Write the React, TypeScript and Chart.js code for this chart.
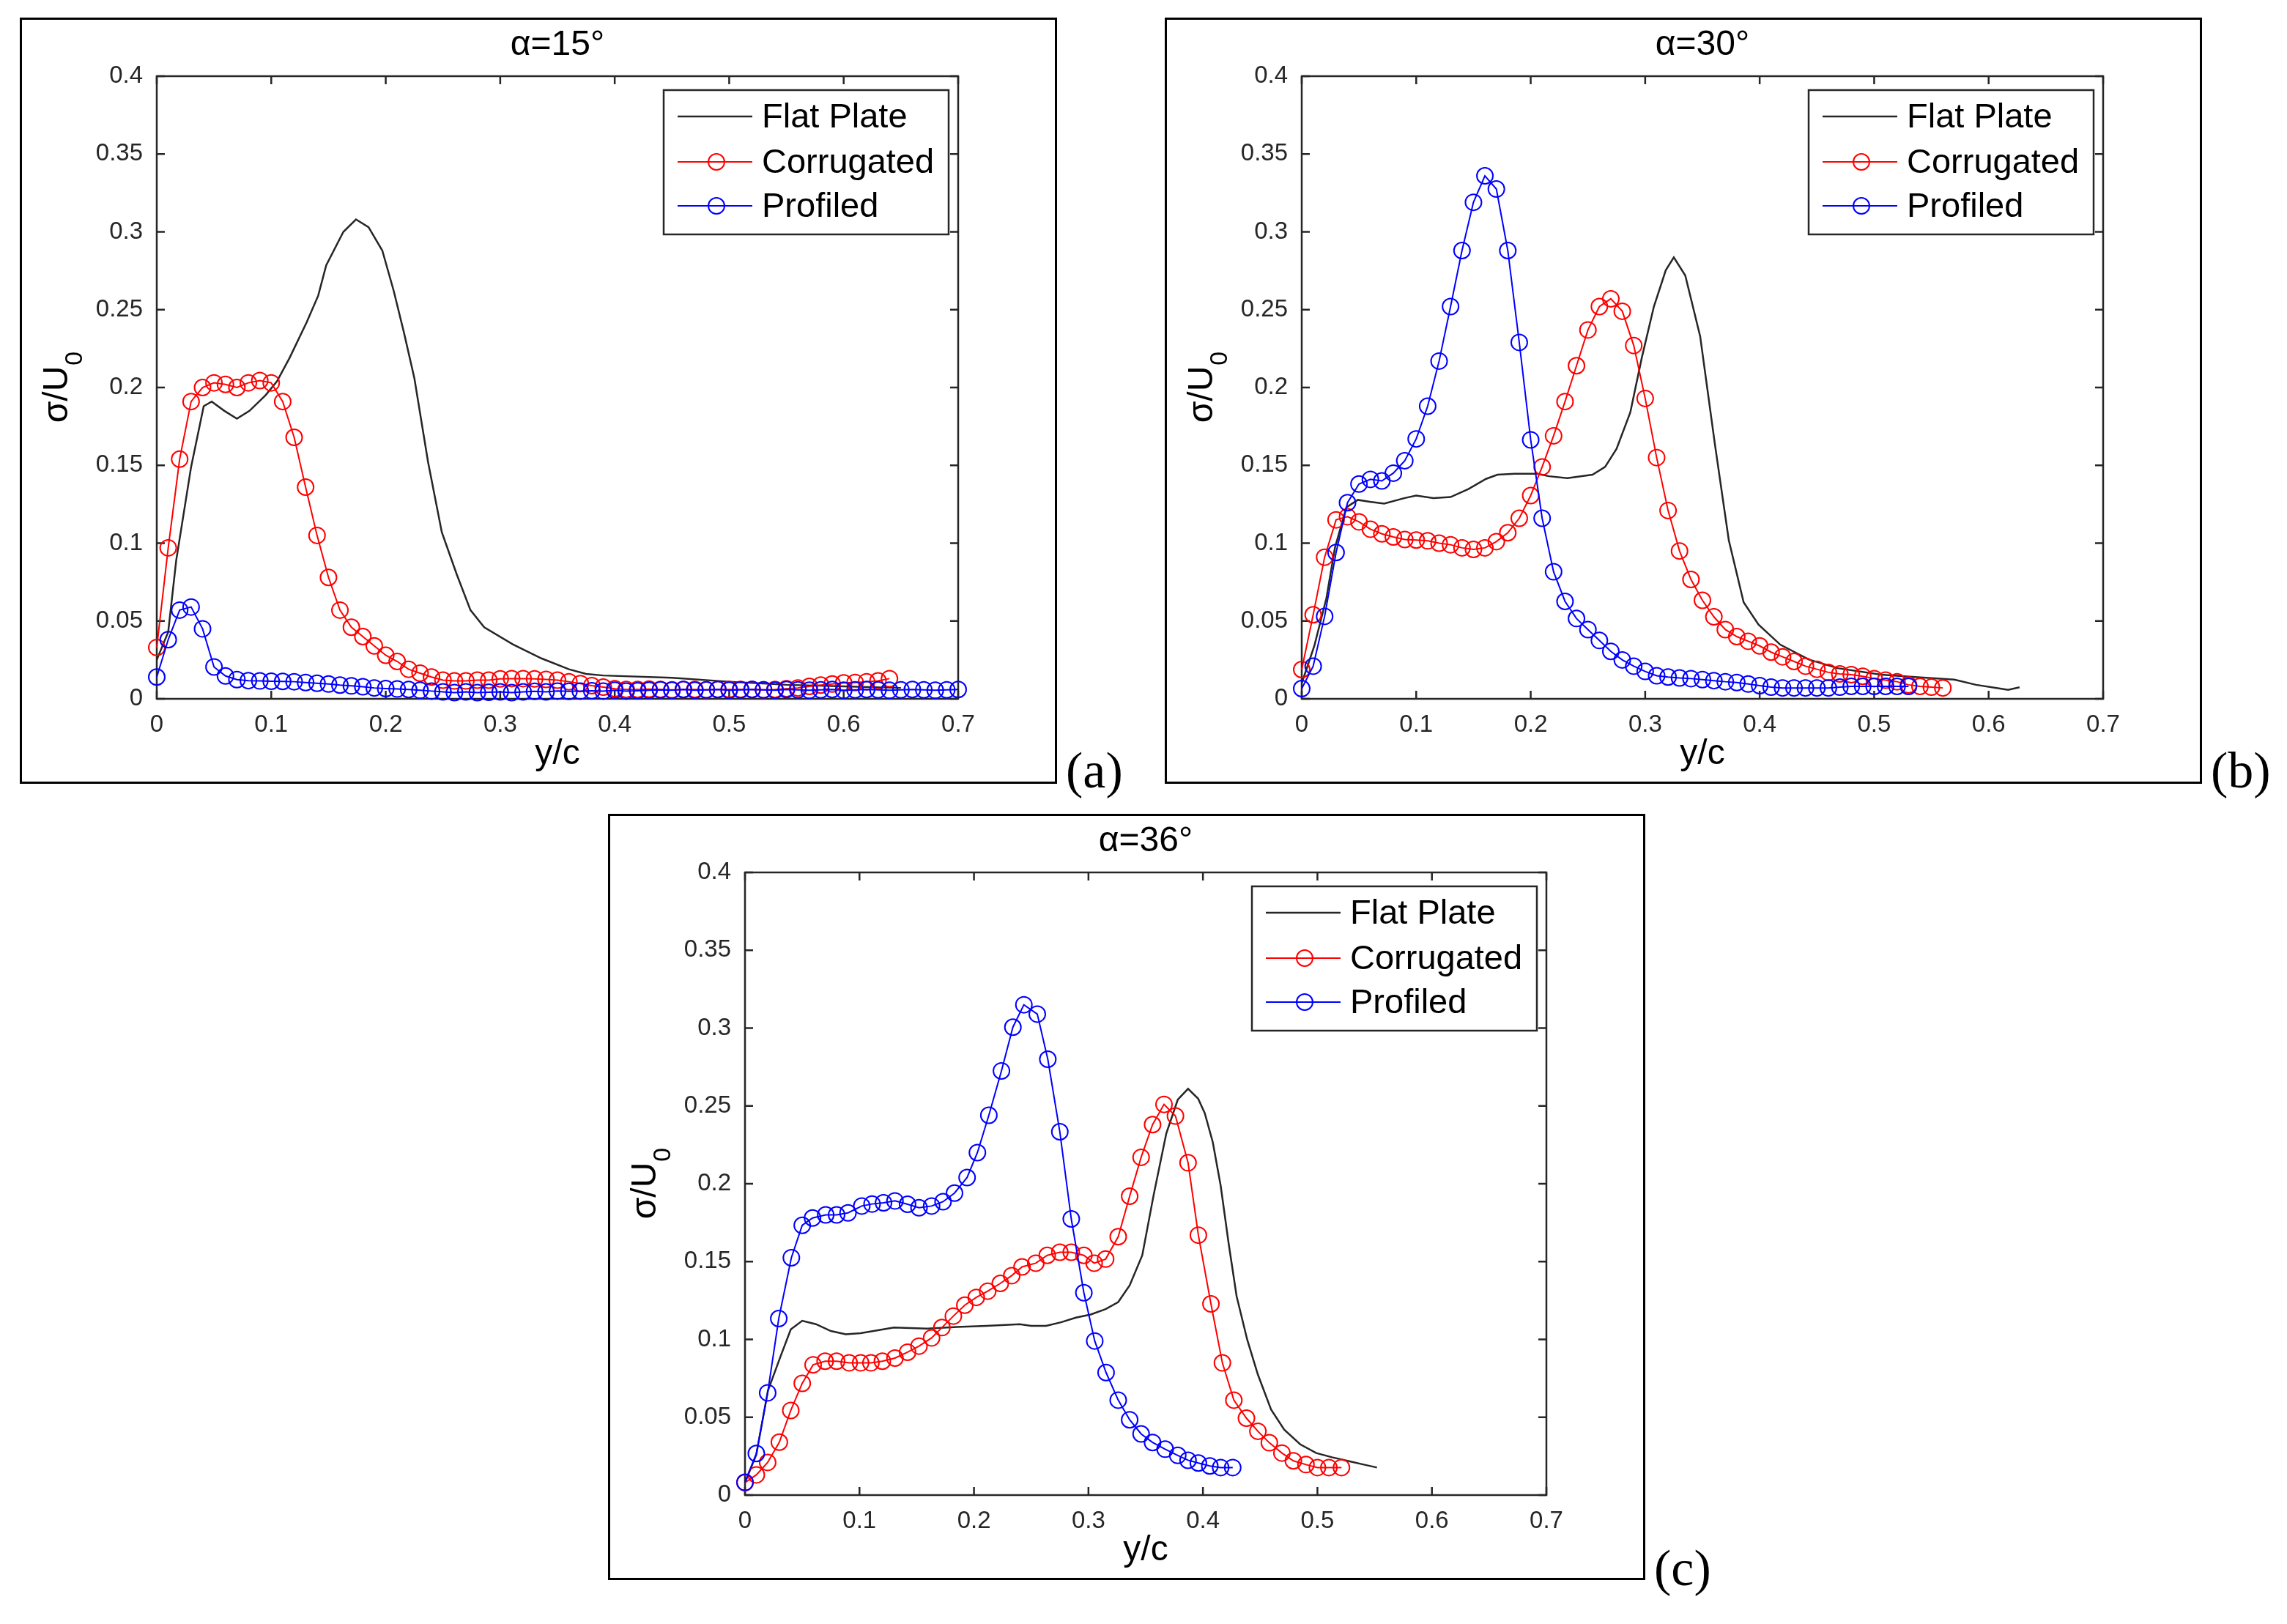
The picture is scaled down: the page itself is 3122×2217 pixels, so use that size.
import React, { useEffect, useRef } from 'react';
import { Chart, registerables } from 'chart.js';

Chart.register(...registerables);

const FONT = '"Liberation Sans", Arial, Helvetica, sans-serif';
const AXIS_COLOR = '#262626';

// axis ticks
const X_TICKS = [0, 0.1, 0.2, 0.3, 0.4, 0.5, 0.6, 0.7];
const X_TICK_LABELS = ['0', '0.1', '0.2', '0.3', '0.4', '0.5', '0.6', '0.7'];
const Y_TICKS = [0, 0.05, 0.1, 0.15, 0.2, 0.25, 0.3, 0.35, 0.4];
const Y_TICK_LABELS = ['0', '0.05', '0.1', '0.15', '0.2', '0.25', '0.3', '0.35', '0.4'];

const SERIES_NAMES = ['Flat Plate', 'Corrugated', 'Profiled'];
const SERIES_COLORS = ['#262626', '#ff0000', '#0000ff'];

// measurement stations (y/c) of the marker series
const PROBE_X = [
  0, 0.01, 0.02, 0.03, 0.04, 0.05, 0.06, 0.07, 0.08, 0.09,
  0.1, 0.11, 0.12, 0.13, 0.14, 0.15, 0.16, 0.17, 0.18, 0.19,
  0.2, 0.21, 0.22, 0.23, 0.24, 0.25, 0.26, 0.27, 0.28, 0.29,
  0.3, 0.31, 0.32, 0.33, 0.34, 0.35, 0.36, 0.37, 0.38, 0.39,
  0.4, 0.41, 0.42, 0.43, 0.44, 0.45, 0.46, 0.47, 0.48, 0.49,
  0.5, 0.51, 0.52, 0.53, 0.54, 0.55, 0.56, 0.57, 0.58, 0.59,
  0.6, 0.61, 0.62, 0.63, 0.64, 0.65, 0.66, 0.67, 0.68, 0.69,
  0.7,
];

// (a) alpha = 15
const A_FLAT_X = [0, 0.01, 0.017, 0.03, 0.041, 0.048, 0.059, 0.07, 0.081, 0.095, 0.105, 0.116, 0.131, 0.141, 0.148, 0.163, 0.174, 0.185, 0.197, 0.207, 0.216, 0.225, 0.237, 0.249, 0.262, 0.274, 0.286, 0.311, 0.336, 0.36, 0.375, 0.39, 0.45, 0.5, 0.55, 0.6, 0.65];
const A_FLAT_Y = [0.025, 0.043, 0.089, 0.149, 0.188, 0.191, 0.185, 0.18, 0.185, 0.195, 0.204, 0.219, 0.242, 0.259, 0.2785, 0.3, 0.308, 0.303, 0.288, 0.262, 0.235, 0.206, 0.152, 0.107, 0.08, 0.057, 0.046, 0.035, 0.026, 0.019, 0.016, 0.015, 0.0135, 0.011, 0.009, 0.008, 0.007];
const A_CORR_X = PROBE_X.slice(0, 65);
const A_CORR_Y = [
  0.033, 0.097, 0.154, 0.191, 0.2, 0.203, 0.202, 0.2, 0.203, 0.2045,
  0.203, 0.191, 0.168, 0.136, 0.105, 0.078, 0.057, 0.046, 0.04, 0.034,
  0.028, 0.024, 0.019, 0.0165, 0.014, 0.012, 0.0115, 0.0115, 0.012, 0.012,
  0.0128, 0.013, 0.013, 0.0128, 0.0125, 0.012, 0.011, 0.0098, 0.0085, 0.0075,
  0.0065, 0.006, 0.006, 0.0062, 0.006, 0.0058, 0.006, 0.006, 0.0058, 0.006,
  0.006, 0.006, 0.006, 0.0058, 0.006, 0.0065, 0.007, 0.008, 0.0088, 0.0095,
  0.0102, 0.0105, 0.011, 0.0115, 0.013,
];
const A_PROF_X = PROBE_X.slice(0, 71);
const A_PROF_Y = [
  0.014, 0.038, 0.057, 0.059, 0.045, 0.0205, 0.0147, 0.0124, 0.0117, 0.0115,
  0.0113, 0.0112, 0.011, 0.0105, 0.01, 0.0095, 0.0088, 0.0083, 0.0078, 0.007,
  0.0066, 0.0063, 0.006, 0.0055, 0.005, 0.0045, 0.004, 0.0045, 0.004, 0.0042,
  0.0045, 0.004, 0.0045, 0.0048, 0.0045, 0.005, 0.0048, 0.005, 0.0052, 0.005,
  0.0055, 0.005, 0.0052, 0.0055, 0.0058, 0.0055, 0.006, 0.0055, 0.0058, 0.006,
  0.0055, 0.0058, 0.006, 0.0058, 0.0055, 0.006, 0.0058, 0.0055, 0.0058, 0.006,
  0.0055, 0.0058, 0.006, 0.0058, 0.0055, 0.0058, 0.006, 0.0058, 0.0055, 0.0058,
  0.006,
];

// (b) alpha = 30
const B_FLAT_X = [0, 0.011, 0.0215, 0.029, 0.039, 0.049, 0.0595, 0.072, 0.09, 0.1, 0.115, 0.13, 0.1456, 0.161, 0.171, 0.186, 0.206, 0.216, 0.232, 0.254, 0.265, 0.275, 0.287, 0.297, 0.3076, 0.318, 0.325, 0.335, 0.348, 0.361, 0.373, 0.386, 0.399, 0.418, 0.443, 0.468, 0.506, 0.538, 0.57, 0.589, 0.608, 0.617, 0.627];
const B_FLAT_Y = [0.01, 0.034, 0.0645, 0.097, 0.123, 0.1278, 0.1266, 0.1254, 0.129, 0.1306, 0.129, 0.1296, 0.1348, 0.1413, 0.144, 0.1446, 0.1446, 0.143, 0.1418, 0.144, 0.149, 0.1606, 0.184, 0.219, 0.252, 0.2754, 0.2836, 0.272, 0.233, 0.163, 0.102, 0.062, 0.0477, 0.0348, 0.0252, 0.0197, 0.0155, 0.0139, 0.0123, 0.009, 0.0068, 0.0058, 0.0074];
const B_CORR_X = PROBE_X.slice(0, 57);
const B_CORR_Y = [
  0.0188, 0.054, 0.091, 0.115, 0.117, 0.1137, 0.109, 0.106, 0.104, 0.1024,
  0.102, 0.1015, 0.1, 0.099, 0.097, 0.096, 0.097, 0.101, 0.1067, 0.116,
  0.1306, 0.149, 0.169, 0.191, 0.214, 0.237, 0.252, 0.257, 0.249, 0.227,
  0.193, 0.155, 0.121, 0.095, 0.0767, 0.0633, 0.0527, 0.0445, 0.04, 0.037,
  0.034, 0.03, 0.027, 0.024, 0.021, 0.019, 0.017, 0.016, 0.0155, 0.0145,
  0.013, 0.012, 0.011, 0.009, 0.008, 0.0075, 0.007,
];
const B_PROF_X = PROBE_X.slice(0, 54);
const B_PROF_Y = [
  0.0066, 0.021, 0.053, 0.094, 0.126, 0.138, 0.141, 0.14, 0.145, 0.153,
  0.167, 0.188, 0.217, 0.252, 0.288, 0.319, 0.336, 0.3275, 0.288, 0.229,
  0.1664, 0.116, 0.0816, 0.0626, 0.0516, 0.0445, 0.0375, 0.0305, 0.025, 0.021,
  0.0176, 0.0148, 0.014, 0.0134, 0.013, 0.0124, 0.0117, 0.011, 0.0105, 0.0095,
  0.0085, 0.0075, 0.007, 0.007, 0.007, 0.007, 0.007, 0.0075, 0.008, 0.008,
  0.008, 0.008, 0.008, 0.008,
];

// (c) alpha = 36
const C_FLAT_X = [0, 0.0099, 0.02, 0.031, 0.04, 0.05, 0.062, 0.075, 0.088, 0.101, 0.117, 0.13, 0.159, 0.185, 0.211, 0.24, 0.25, 0.263, 0.276, 0.289, 0.302, 0.315, 0.326, 0.336, 0.347, 0.357, 0.368, 0.378, 0.387, 0.3958, 0.4016, 0.4086, 0.4155, 0.4225, 0.4294, 0.4387, 0.448, 0.4595, 0.471, 0.485, 0.499, 0.5127, 0.529, 0.5405, 0.552];
const C_FLAT_Y = [0.008, 0.026, 0.067, 0.089, 0.1065, 0.112, 0.1098, 0.1054, 0.1033, 0.104, 0.106, 0.1076, 0.107, 0.108, 0.1087, 0.1098, 0.1087, 0.1087, 0.111, 0.114, 0.116, 0.1195, 0.124, 0.1347, 0.154, 0.193, 0.2323, 0.254, 0.261, 0.2547, 0.2453, 0.2267, 0.1987, 0.1614, 0.1278, 0.0998, 0.0774, 0.055, 0.042, 0.0326, 0.027, 0.0243, 0.0215, 0.0196, 0.0177];
const C_CORR_X = [0, 0.0099, 0.0198, 0.03, 0.04, 0.05, 0.0595, 0.07, 0.08, 0.091, 0.101, 0.11, 0.12, 0.131, 0.142, 0.152, 0.163, 0.172, 0.182, 0.192, 0.202, 0.212, 0.223, 0.233, 0.242, 0.254, 0.264, 0.275, 0.285, 0.296, 0.305, 0.315, 0.326, 0.336, 0.346, 0.356, 0.366, 0.376, 0.387, 0.396, 0.407, 0.417, 0.427, 0.438, 0.448, 0.458, 0.469, 0.479, 0.49, 0.5, 0.51, 0.521];
const C_CORR_Y = [0.008, 0.013, 0.021, 0.034, 0.0544, 0.0718, 0.0837, 0.086, 0.086, 0.085, 0.085, 0.085, 0.086, 0.088, 0.0918, 0.0957, 0.101, 0.1076, 0.115, 0.122, 0.127, 0.131, 0.136, 0.141, 0.1466, 0.149, 0.154, 0.156, 0.156, 0.154, 0.149, 0.1516, 0.166, 0.192, 0.217, 0.238, 0.251, 0.2435, 0.2135, 0.167, 0.1228, 0.0849, 0.061, 0.0494, 0.041, 0.0336, 0.027, 0.022, 0.0196, 0.0177, 0.0177, 0.0177];
const C_PROF_X = [0, 0.0099, 0.0198, 0.0295, 0.0405, 0.05, 0.059, 0.0705, 0.08, 0.09, 0.102, 0.111, 0.121, 0.131, 0.142, 0.152, 0.163, 0.173, 0.183, 0.194, 0.203, 0.213, 0.224, 0.234, 0.2436, 0.2553, 0.2645, 0.275, 0.285, 0.296, 0.3055, 0.3154, 0.326, 0.336, 0.346, 0.356, 0.367, 0.378, 0.387, 0.396, 0.406, 0.4155, 0.426];
const C_PROF_Y = [0.0082, 0.0267, 0.0657, 0.1134, 0.1525, 0.1733, 0.178, 0.18, 0.18, 0.1813, 0.1857, 0.187, 0.1878, 0.189, 0.1868, 0.1846, 0.1857, 0.1885, 0.194, 0.204, 0.22, 0.244, 0.2725, 0.3006, 0.315, 0.309, 0.28, 0.2334, 0.1774, 0.13, 0.099, 0.0787, 0.061, 0.0484, 0.0393, 0.0338, 0.0295, 0.0255, 0.0224, 0.0206, 0.0187, 0.0177, 0.0177];

const PANEL_W = 1416;
const PANEL_H = 1046;

const zip = (xs: number[], ys: number[]) => xs.map((x, i) => ({ x, y: ys[i] }));

// Matlab-like axes box, inward ticks, title, labels and legend
const matlabAxes = {
  id: 'matlabAxes',
  beforeDatasetsDraw(chart: any) {
    const { ctx, chartArea: a, scales } = chart;
    ctx.save();
    ctx.strokeStyle = AXIS_COLOR;
    ctx.lineWidth = 2.5;
    ctx.strokeRect(a.left, a.top, a.right - a.left, a.bottom - a.top);
    ctx.beginPath();
    X_TICKS.forEach((v) => {
      const px = scales.x.getPixelForValue(v);
      ctx.moveTo(px, a.bottom);
      ctx.lineTo(px, a.bottom - 11);
      ctx.moveTo(px, a.top);
      ctx.lineTo(px, a.top + 11);
    });
    Y_TICKS.forEach((v) => {
      const py = scales.y.getPixelForValue(v);
      ctx.moveTo(a.left, py);
      ctx.lineTo(a.left + 11, py);
      ctx.moveTo(a.right, py);
      ctx.lineTo(a.right - 11, py);
    });
    ctx.stroke();
    ctx.restore();
  },
  afterDraw(chart: any, _args: any, opts: any) {
    const { ctx, chartArea: a } = chart;
    const cx = (a.left + a.right) / 2;
    const cy = (a.top + a.bottom) / 2;
    ctx.save();
    ctx.fillStyle = '#000';

    // title
    ctx.font = `48px ${FONT}`;
    ctx.textAlign = 'center';
    ctx.textBaseline = 'alphabetic';
    ctx.fillText(opts.title, cx, 51);

    // x label
    ctx.fillText('y/c', cx, 1019);

    // y label: sigma/U with subscript 0, rotated
    ctx.save();
    ctx.translate(65, cy);
    ctx.rotate(-Math.PI / 2);
    ctx.textAlign = 'left';
    ctx.font = `48px ${FONT}`;
    const main = 'σ/U';
    const wMain = ctx.measureText(main).width;
    ctx.font = `34px ${FONT}`;
    const wSub = ctx.measureText('0').width;
    const x0 = -(wMain + wSub) / 2;
    ctx.font = `48px ${FONT}`;
    ctx.fillText(main, x0, 0);
    ctx.font = `34px ${FONT}`;
    ctx.fillText('0', x0 + wMain + 1, 20);
    ctx.restore();

    // legend
    const lw = 389;
    const lh = 197;
    const lx = a.right - 13 - lw;
    const ly = a.top + 19;
    ctx.fillStyle = '#fff';
    ctx.fillRect(lx, ly, lw, lh);
    ctx.strokeStyle = AXIS_COLOR;
    ctx.lineWidth = 2.5;
    ctx.strokeRect(lx, ly, lw, lh);
    const rows = [36, 98, 158];
    chart.data.datasets.forEach((ds: any, i: number) => {
      const y = ly + rows[i];
      ctx.strokeStyle = ds.borderColor;
      ctx.lineWidth = ds.borderWidth;
      ctx.beginPath();
      ctx.moveTo(lx + 19, y);
      ctx.lineTo(lx + 121, y);
      ctx.stroke();
      if (ds.pointRadius > 0) {
        ctx.lineWidth = ds.pointBorderWidth;
        ctx.beginPath();
        ctx.arc(lx + 72, y, ds.pointRadius, 0, Math.PI * 2);
        ctx.stroke();
      }
      ctx.fillStyle = '#000';
      ctx.font = `47px ${FONT}`;
      ctx.textAlign = 'left';
      ctx.textBaseline = 'middle';
      ctx.fillText(ds.label, lx + 134, y + 2);
    });
    ctx.restore();
  },
};

interface PanelProps {
  left: number;
  top: number;
  title: string;
  flatX: number[];
  flatY: number[];
  corrX: number[];
  corrY: number[];
  profX: number[];
  profY: number[];
}

const Panel: React.FC<PanelProps> = ({ left, top, title, flatX, flatY, corrX, corrY, profX, profY }) => {
  const chartRef = useRef<HTMLCanvasElement>(null);

  useEffect(() => {
    if (!chartRef.current) return;
    const ctx = chartRef.current.getContext('2d');
    if (!ctx) return;

    const marker = (color: string) => ({
      borderColor: color,
      borderWidth: 2,
      pointRadius: 11,
      pointHoverRadius: 11,
      pointBorderWidth: 2,
      pointBorderColor: color,
      pointBackgroundColor: 'rgba(0,0,0,0)',
      clip: false as const,
    });

    const chart = new Chart(ctx, {
      type: 'line',
      data: {
        datasets: [
          {
            label: SERIES_NAMES[0],
            data: zip(flatX, flatY),
            borderColor: SERIES_COLORS[0],
            borderWidth: 2.5,
            pointRadius: 0,
            order: 3,
            clip: false,
          },
          { label: SERIES_NAMES[1], data: zip(corrX, corrY), order: 2, ...marker(SERIES_COLORS[1]) },
          { label: SERIES_NAMES[2], data: zip(profX, profY), order: 1, ...marker(SERIES_COLORS[2]) },
        ],
      },
      options: {
        animation: false,
        responsive: false,
        devicePixelRatio: 1,
        events: [],
        layout: { padding: { left: 0, top: 80, right: 135, bottom: 0 } },
        plugins: {
          legend: { display: false },
          tooltip: { enabled: false },
          // @ts-ignore custom plugin options
          matlabAxes: { title },
        },
        scales: {
          x: {
            type: 'linear',
            min: 0,
            max: 0.7,
            grid: { display: false },
            border: { display: false },
            afterBuildTicks: (s: any) => {
              s.ticks = X_TICKS.map((value) => ({ value }));
            },
            afterFit: (s: any) => {
              s.height = 116;
            },
            ticks: {
              autoSkip: false,
              maxRotation: 0,
              padding: 8,
              color: AXIS_COLOR,
              font: { family: FONT, size: 33 },
              callback: (_v: any, i: number) => X_TICK_LABELS[i],
            },
          },
          y: {
            type: 'linear',
            min: 0,
            max: 0.4,
            grid: { display: false },
            border: { display: false },
            afterBuildTicks: (s: any) => {
              s.ticks = Y_TICKS.map((value) => ({ value }));
            },
            afterFit: (s: any) => {
              s.width = 187;
            },
            ticks: {
              autoSkip: false,
              padding: 11,
              color: AXIS_COLOR,
              font: { family: FONT, size: 33 },
              callback: (_v: any, i: number) => Y_TICK_LABELS[i],
            },
          },
        },
      },
      plugins: [matlabAxes],
    });

    return () => {
      chart.destroy();
    };
  }, []);

  return (
    <div style={{ position: 'absolute', left, top, width: PANEL_W, height: PANEL_H }}>
      <canvas
        ref={chartRef}
        width={PANEL_W}
        height={PANEL_H}
        style={{ position: 'absolute', left: 0, top: 0, width: PANEL_W, height: PANEL_H }}
      />
      <div
        style={{
          position: 'absolute',
          left: 0,
          top: 0,
          width: PANEL_W,
          height: PANEL_H,
          border: '3px solid #000',
          boxSizing: 'border-box',
          pointerEvents: 'none',
        }}
      />
    </div>
  );
};

const tagStyle = (left: number, top: number): React.CSSProperties => ({
  position: 'absolute',
  left,
  top,
  font: '70px "Liberation Serif", "DejaVu Serif", serif',
  lineHeight: '70px',
  color: '#000',
  whiteSpace: 'nowrap',
});

const App: React.FC = () => {
  return (
    <div style={{ position: 'absolute', left: 0, top: 0, width: 3122, height: 2217, background: '#fff', overflow: 'hidden' }}>
      <Panel left={27} top={24} title="α=15°" flatX={A_FLAT_X} flatY={A_FLAT_Y} corrX={A_CORR_X} corrY={A_CORR_Y} profX={A_PROF_X} profY={A_PROF_Y} />
      <Panel left={1590} top={24} title="α=30°" flatX={B_FLAT_X} flatY={B_FLAT_Y} corrX={B_CORR_X} corrY={B_CORR_Y} profX={B_PROF_X} profY={B_PROF_Y} />
      <Panel left={830} top={1111} title="α=36°" flatX={C_FLAT_X} flatY={C_FLAT_Y} corrX={C_CORR_X} corrY={C_CORR_Y} profX={C_PROF_X} profY={C_PROF_Y} />
      <div style={tagStyle(1455, 1017)}>(a)</div>
      <div style={tagStyle(3018, 1017)}>(b)</div>
      <div style={tagStyle(2258, 2106)}>(c)</div>
    </div>
  );
};

export default App;
